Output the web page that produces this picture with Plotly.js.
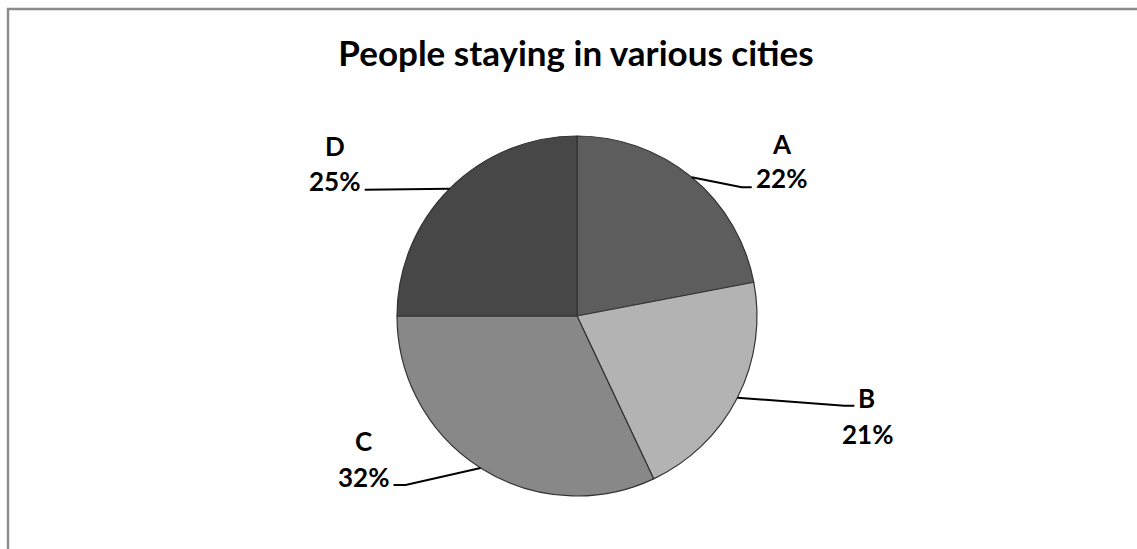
<!DOCTYPE html>
<html>
<head>
<meta charset="utf-8">
<script src="https://cdn.plot.ly/plotly-3.0.1.min.js"></script>
<style>html,body{margin:0;padding:0;background:#fff;}#chart{width:1137px;height:549px;}</style>
</head>
<body>
<div id="chart"></div>
<script>
// ---- data ----
const chartTitle = 'People staying in various cities';
const categories = ['A', 'B', 'C', 'D'];
const values = [22, 21, 32, 25];
const sliceColors = ['#5d5d5d', '#b3b3b3', '#888888', '#474747'];

// ---- layout geometry (pixels) ----
const W = 1137, H = 549;
const cx = 577, cy = 316, R = 180;
// label placement relative to the slice's rim anchor: letter, pct, elbow and end of leader line (dx,dy)
const labelOffsets = [
  {letter: [90, -33], pct: [90, 1], elbow: [50, 10], end: [60, 10]},
  {letter: [129, 0], pct: [130, 36], elbow: [107, 8], end: [117, 8]},
  {letter: [-117, -27], pct: [-117, 9], elbow: [-75, 17], end: [-87, 17]},
  {letter: [-115, -43], pct: [-115, -8], elbow: [-85, 1], end: [-85, 1]}
];

const px = x => x / W;
const py = y => 1 - y / H;
const FONT = 'Lato, "Open Sans", sans-serif';

const total = values.reduce((a, b) => a + b, 0);
const annotations = [];
const shapes = [];
let cum = 0;
values.forEach((v, i) => {
  const mid = (cum + v / 2) / total * 2 * Math.PI; // clockwise from 12 o'clock
  cum += v;
  const ax = cx + R * Math.sin(mid);
  const ay = cy - R * Math.cos(mid);
  const o = labelOffsets[i];
  const pct = Math.round(v / total * 100) + '%';
  annotations.push({xref: 'paper', yref: 'paper', x: px(ax + o.letter[0]), y: py(ay + o.letter[1]),
    text: '<b>' + categories[i] + '</b>', showarrow: false, xanchor: 'center', yanchor: 'middle',
    font: {family: FONT, size: 26, color: '#000'}});
  annotations.push({xref: 'paper', yref: 'paper', x: px(ax + o.pct[0]), y: py(ay + o.pct[1]),
    text: '<b>' + pct + '</b>', showarrow: false, xanchor: 'center', yanchor: 'middle',
    font: {family: FONT, size: 26, color: '#000'}});
  shapes.push({type: 'path', xref: 'paper', yref: 'paper',
    path: 'M ' + px(ax) + ' ' + py(ay) + ' L ' + px(ax + o.elbow[0]) + ' ' + py(ay + o.elbow[1]) +
          ' L ' + px(ax + o.end[0]) + ' ' + py(ay + o.end[1]),
    line: {color: '#000', width: 2}});
});

// chart-area border (partially cropped in the original)
shapes.push({type: 'path', xref: 'paper', yref: 'paper',
  path: 'M ' + px(8) + ' ' + py(H + 2) + ' L ' + px(8) + ' ' + py(9) + ' L ' + px(W + 2) + ' ' + py(9),
  line: {color: '#8c8c8c', width: 2.5}});

const trace = {
  type: 'pie',
  labels: categories,
  values: values,
  sort: false,
  direction: 'clockwise',
  rotation: 0,
  textinfo: 'none',
  hoverinfo: 'label+percent',
  marker: {colors: sliceColors, line: {color: '#333333', width: 1.2}},
  domain: {x: [px(cx - R), px(cx + R)], y: [py(cy + R), py(cy - R)]},
  showlegend: false
};

const layout = {
  width: W, height: H,
  margin: {l: 0, r: 0, t: 0, b: 0},
  paper_bgcolor: '#ffffff',
  showlegend: false,
  title: {text: '<b>' + chartTitle + '</b>', xref: 'paper', yref: 'paper', x: px(576), y: py(54),
    xanchor: 'center', yanchor: 'middle', font: {family: FONT, size: 35, color: '#000'}},
  annotations: annotations,
  shapes: shapes
};

Plotly.newPlot('chart', [trace], layout, {displayModeBar: false, staticPlot: true});
</script>
</body>
</html>
